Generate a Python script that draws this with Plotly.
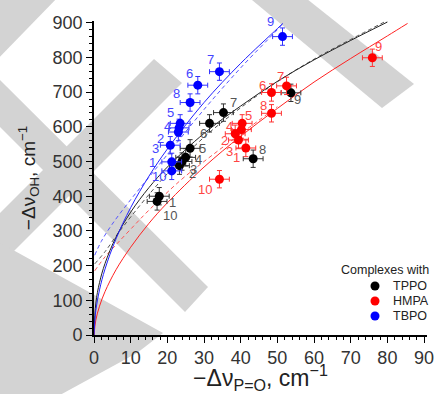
import plotly.graph_objects as go

# ---------------- data ----------------
tppo_labels = ["1", "2", "3", "4", "5", "6", "7", "8", "9", "10"]
tppo_x = [17.8, 24.0, 23.3, 25.0, 26.2, 31.5, 35.3, 43.4, 53.7, 17.2]
tppo_y = [400, 500, 488, 512, 538, 610, 641, 508, 698, 385]

hmpa_labels = ["1", "2", "3", "4", "5", "6", "7", "8", "9", "10"]
hmpa_x = [41.4, 38.5, 39.4, 40.2, 40.4, 48.4, 52.5, 48.4, 75.9, 34.2]
hmpa_y = [539, 580, 562, 592, 610, 699, 718, 639, 799, 449]

tbpo_labels = ["1", "2", "3", "4", "5", "6", "7", "8", "9", "10"]
tbpo_x = [21.2, 23.0, 20.8, 23.2, 23.5, 28.3, 34.2, 26.2, 51.4, 21.2]
tbpo_y = [499, 585, 547, 597, 610, 720, 759, 670, 860, 473]

err_x = 2.7
err_y = 25

legend_title = "Complexes with"
legend_names = ["TPPO", "HMPA", "TBPO"]

# fitted curves
fit_tppo_x = [0, 0.5, 1.5, 3, 6, 10, 15, 20, 30, 40, 50, 60, 70, 80]
fit_tppo_y = [0, 92, 151, 206, 282, 354, 425, 484, 581, 660, 731, 793, 849, 902]
fit_hmpa_x = [0, 0.5, 1.5, 3, 6, 10, 15, 20, 30, 40, 50, 60, 70, 80, 85.5]
fit_hmpa_y = [0, 43, 83, 125, 188, 253, 322, 381, 484, 573, 653, 729, 797, 862, 898]
fit_tbpo_x = [0, 0.5, 1.5, 3, 6, 10, 15, 20, 30, 40, 50, 51.5]
fit_tbpo_y = [0, 71, 130, 190, 277, 367, 458, 536, 670, 783, 883, 898]

dash_tppo_x = [0.2, 3, 6, 10, 15, 20, 30, 40, 50, 60, 70, 81]
dash_tppo_y = [205, 240, 285, 340, 405, 465, 570, 655, 730, 795, 852, 912]
dash_hmpa_x = [0.2, 3, 6, 10, 15, 23.5, 30, 40, 50]
dash_hmpa_y = [185, 225, 260, 305, 360, 445, 500, 580, 658]
dash_tbpo_x = [0.2, 2, 5, 10, 15, 20, 30, 40, 50, 51.5]
dash_tbpo_y = [230, 270, 320, 390, 455, 520, 650, 770, 880, 898]

# label pixel offsets (dx, dy) per point
tppo_off = [(13, 6), (10, 12), (14, 4), (13, 2), (12, 0), (-6, 10), (10, -10), (9, -9), (7, 7), (13, 14)]
hmpa_off = [(-9, 10), (-11, 7), (-9, 11), (-12, -3), (6, -8), (-9, -7), (-6, -9), (-8, -8), (6, -11), (-14, 10)]
tbpo_off = [(-19, 1), (-18, 6), (-15, 3), (-12, -1), (-10, -11), (-8, -12), (-9, -12), (-14, -9), (-12, -15), (-13, 6)]

BLACK = "#000000"
RED = "#ff0000"
BLUE = "#0000ff"

fig = go.Figure()

# watermark bands (pixel polygons -> paper coords)
L, R, T, B = 94, 427, 21, 335
def P(px, py):
    return (px - L) / (R - L), (B - py) / (B - T)

bands = [
    [(246, -5), (302, -5), (414, 84), (382, 108)],
    [(154, 59), (182, 83), (-5, 270), (-5, 218)],
    [(-5, -5), (60, -5), (-5, 62)],
    [(-5, 75), (-5, 122), (185, 312), (208, 287)],
    [(-5, 240), (163, 333), (137, 353), (60, 395), (-5, 395)],
]
for poly in bands:
    pts = [P(x, y) for x, y in poly]
    path = "M " + " L ".join(f"{a:.4f},{b:.4f}" for a, b in pts) + " Z"
    fig.add_shape(type="path", path=path, xref="paper", yref="paper",
                  fillcolor="#d3d3d3", line_width=0, layer="below")

def add_fit(xs, ys, color, dash, width):
    fig.add_trace(go.Scatter(x=xs, y=ys, mode="lines", line=dict(color=color, width=width, dash=dash, shape="spline"),
                             showlegend=False, hoverinfo="skip"))

add_fit(dash_tppo_x, dash_tppo_y, "#555555", "4px,3px", 1)
add_fit(dash_hmpa_x, dash_hmpa_y, "#ff5555", "4px,3px", 1)
add_fit(dash_tbpo_x, dash_tbpo_y, "#5555ff", "4px,3px", 1)
add_fit(fit_tppo_x, fit_tppo_y, "#222222", "solid", 1)
add_fit(fit_hmpa_x, fit_hmpa_y, "#ff2222", "solid", 1)
add_fit(fit_tbpo_x, fit_tbpo_y, "#2222ff", "solid", 1)

def add_series(name, xs, ys, color, barcolor):
    fig.add_trace(go.Scatter(
        x=xs, y=ys, mode="markers", name=name, showlegend=False,
        marker=dict(color=color, size=9),
        error_x=dict(type="constant", value=err_x, color=barcolor, thickness=1, width=2.5),
        error_y=dict(type="constant", value=err_y, color=barcolor, thickness=1, width=2.5),
    ))

add_series(legend_names[0], tppo_x, tppo_y, BLACK, "#333333")
add_series(legend_names[1], hmpa_x, hmpa_y, RED, "#ff3333")
add_series(legend_names[2], tbpo_x, tbpo_y, BLUE, "#3333ff")

def add_labels(xs, ys, labels, offs, color):
    for x, y, t, (dx, dy) in zip(xs, ys, labels, offs):
        fig.add_annotation(x=x, y=y, text=t, showarrow=False, xshift=dx, yshift=-dy,
                           font=dict(family="Arial", size=13, color=color))

add_labels(tppo_x, tppo_y, tppo_labels, tppo_off, "#555555")
add_labels(hmpa_x, hmpa_y, hmpa_labels, hmpa_off, "#ff4444")
add_labels(tbpo_x, tbpo_y, tbpo_labels, tbpo_off, "#4444ff")

# manual legend (paper coordinates)
lg_font = dict(family="Arial", size=12.5, color="#222222")
fig.add_annotation(x=P(431, 0)[0], y=P(0, 270)[1], xref="paper", yref="paper", text=legend_title,
                   showarrow=False, xanchor="right", yanchor="middle", font=lg_font)
for i, (nm, col) in enumerate(zip(legend_names, [BLACK, RED, BLUE])):
    py = 286 + 15 * i
    cx, cy = P(375, py)
    fig.add_shape(type="circle", xref="paper", yref="paper", xsizemode="pixel", ysizemode="pixel",
                  xanchor=cx, yanchor=cy, x0=-4.5, x1=4.5, y0=-4.5, y1=4.5,
                  fillcolor=col, line_width=0)
    fig.add_annotation(x=P(391, 0)[0], y=cy, xref="paper", yref="paper", text=nm, showarrow=False,
                       xanchor="left", yanchor="middle", font=lg_font)

axis_common = dict(showline=True, linecolor="black", linewidth=1.6, ticks="outside", ticklen=6,
                   tickwidth=1.3, tickcolor="black", showgrid=False, zeroline=False, automargin=False,
                   tickfont=dict(family="Arial", size=18, color="#333333"))

fig.update_xaxes(range=[0, 90.8], tickmode="array", tickvals=list(range(0, 91, 10)),
                 minor=dict(ticks="outside", ticklen=3, tickcolor="black", dtick=2, tick0=0),
                 title=dict(text="−Δν<sub>P=O</sub>, cm<sup>−1</sup>", font=dict(family="Arial", size=23, color="#222"),
                            standoff=7),
                 **axis_common)
fig.update_yaxes(range=[0, 905], tickmode="array", tickvals=list(range(0, 901, 100)),
                 minor=dict(ticks="outside", ticklen=3, tickcolor="black", dtick=20, tick0=0),
                 title=dict(text="−Δν<sub>OH</sub>, cm<sup>−1</sup>", font=dict(family="Arial", size=19, color="#222"),
                            standoff=12),
                 **axis_common)

fig.update_layout(
    width=438, height=394,
    margin=dict(l=94, r=11, t=21, b=59),
    plot_bgcolor="rgba(0,0,0,0)", paper_bgcolor="white",
    showlegend=False,
)

fig.write_html("out.html", config={"displayModeBar": False},
               post_script="document.body.style.margin='0';document.body.style.padding='0';")
